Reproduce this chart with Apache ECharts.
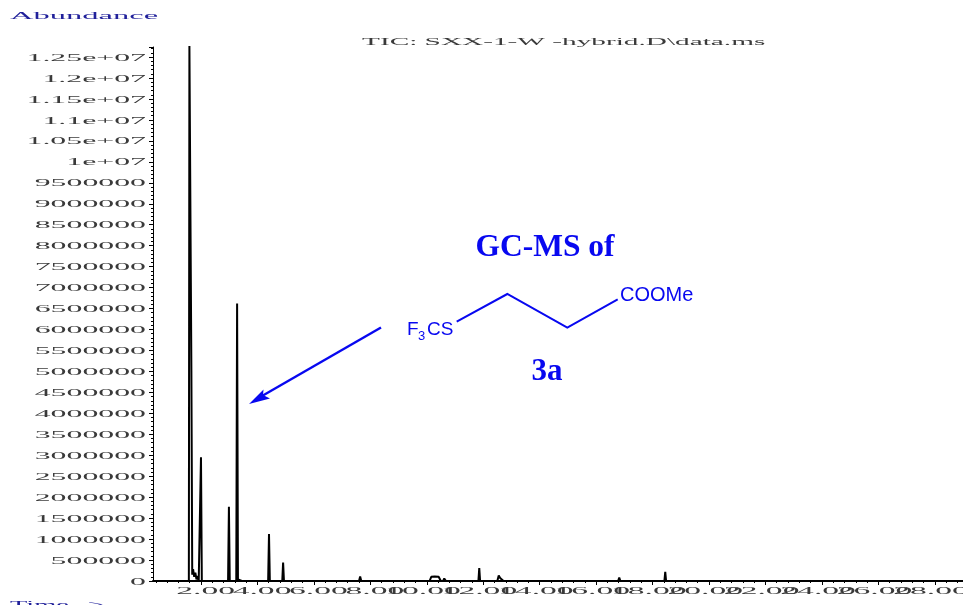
<!DOCTYPE html>
<html>
<head>
<meta charset="utf-8">
<style>html,body{margin:0;padding:0;background:#fff}#c{width:963px;height:605px}</style>
<script src="https://cdn.jsdelivr.net/npm/echarts@6/dist/echarts.min.js"></script>
</head>
<body>
<div id="c"></div>
<script>
var yTickLabels = ['0','500000','1000000','1500000','2000000','2500000','3000000','3500000','4000000','4500000','5000000','5500000','6000000','6500000','7000000','7500000','8000000','8500000','9000000','9500000','1e+07','1.05e+07','1.1e+07','1.15e+07','1.2e+07','1.25e+07'];
var xTickLabels = ['2.00','4.00','6.00','8.00','10.00','12.00','14.00','16.00','18.00','20.00','22.00','24.00','26.00','28.00'];
var xMajor = [2,4,6,8,10,12,14,16,18,20,22,24,26,28];
var xMinor = [0.4,0.8,1.2,1.6,2.4,2.8,3.2,3.6,4.4,4.8,5.2,5.6,6.4,6.8,7.2,7.6,8.4,8.8,9.2,9.6,10.4,10.8,11.2,11.6,12.4,12.8,13.2,13.6,14.4,14.8,15.2,15.6,16.4,16.8,17.2,17.6,18.4,18.8,19.2,19.6,20.4,20.8,21.2,21.6,22.4,22.8,23.2,23.6,24.4,24.8,25.2,25.6,26.4,26.8,27.2,27.6,28.4,28.8];
var times = [0.3,1.57,1.59,1.63,1.66,1.69,1.72,1.76,1.80,1.84,1.88,1.92,1.97,2.00,2.03,2.96,2.99,3.02,3.25,3.28,3.31,3.45,4.38,4.41,4.44,4.88,4.91,4.94,7.60,7.64,7.68,10.10,10.16,10.28,10.42,10.50,10.58,10.62,10.68,11.83,11.86,11.89,12.50,12.55,12.60,12.66,12.72,14.85,14.92,14.99,16.78,16.82,16.86,18.42,18.45,18.48,29];
var abundance = [0,0,12800000,12800000,5000000,150000,280000,100000,200000,40000,120000,0,0,2950000,0,0,1770000,0,0,6620000,40000,0,0,1120000,0,0,440000,0,0,110000,0,0,100000,110000,100000,0,0,60000,0,0,310000,0,0,130000,70000,110000,0,0,20000,0,0,80000,0,0,220000,0,0];
var series1 = times.map(function(t,i){return [t,abundance[i]];});
var blue = '#0808f0', navy = '#20209a', tickText = '#3a3a3a';
var labelFont = '12px "Liberation Serif"';

function stretched(text, x, y, sx, sy, align, color){
  return {type:'text', x:x, y:y, scaleX:sx, scaleY:sy, silent:true,
    style:{text:text, x:0, y:0, align:align, verticalAlign:'middle', font:labelFont, fill:color}};
}
function t(text,x,y,font,align){
  return {type:'text', x:x, y:y, silent:true, style:{text:text, x:0, y:0, font:font, fill:blue, align:align||'left', verticalAlign:'middle'}};
}
var chart = echarts.init(document.getElementById('c'), null, {renderer:'canvas'});
chart.setOption({
  animation:false,
  backgroundColor:'#fff',
  grid:{left:153,right:0,top:47,bottom:24,containLabel:false},
  xAxis:[
    {type:'value',min:0.3,max:29,position:'bottom',splitLine:{show:false},
     axisLine:{show:true,lineStyle:{color:'#000',width:2}},
     axisTick:{show:true,customValues:xMajor,length:4,lineStyle:{color:'#000',width:1}},
     axisLabel:{show:false}},
    {type:'value',min:0.3,max:29,position:'bottom',splitLine:{show:false},
     axisLine:{show:false},
     axisTick:{show:true,customValues:xMinor,length:2,lineStyle:{color:'#000',width:1}},
     axisLabel:{show:false}}
  ],
  yAxis:{type:'value',min:0,max:12740000,interval:500000,splitLine:{show:false},
     axisLine:{show:true,lineStyle:{color:'#000',width:1}},
     axisTick:{show:true,length:4,lineStyle:{color:'#000'}},
     minorTick:{show:true,splitNumber:5,length:2,lineStyle:{color:'#000'}},
     axisLabel:{show:false}},
  series:[
    {type:'line',data:series1,symbol:'none',lineStyle:{color:'#000',width:2},silent:true,clip:true},
    {type:'custom',silent:true,data:yTickLabels.map(function(s,i){return [0.3,i*500000];}),
     renderItem:function(p,api){var c=api.coord([api.value(0),api.value(1)]);
       return stretched(yTickLabels[p.dataIndex],c[0]-7,c[1]+1,2.65,0.82,'right',tickText);}},
    {type:'custom',silent:true,data:xMajor.map(function(v){return [v,0];}),
     renderItem:function(p,api){var c=api.coord([api.value(0),api.value(1)]);
       return stretched(xTickLabels[p.dataIndex],c[0]+34,c[1]+10,2.8,0.82,'right',tickText);}}
  ],
  graphic:[
    stretched('Abundance',10,16,2.71,0.82,'left',navy),
    stretched('Time-->',10,605,2.36,0.82,'left',navy),
    stretched('TIC: SXX-1-W -hybrid.D\\data.ms',362,42,2.44,0.82,'left',tickText),
    t('GC-MS of',545,248,'bold 31.5px "Liberation Serif"','center'),
    t('3a',547,372,'bold 31px "Liberation Serif"','center'),
    t('COOMe',620,295,'20px "Liberation Sans"'),
    t('F',407,330,'19px "Liberation Sans"'),
    t('3',418,336,'13px "Liberation Sans"'),
    t('CS',427,330,'19px "Liberation Sans"'),
    {type:'polyline',silent:true,shape:{points:[[456.7,321.7],[507.3,294],[567.3,327.7],[617.7,299.3]]},style:{stroke:blue,lineWidth:2,fill:null}},
    {type:'line',silent:true,shape:{x1:381,y1:327.5,x2:262,y2:396},style:{stroke:blue,lineWidth:2.4}},
    {type:'polygon',silent:true,shape:{points:[[249,404],[263.5,389.5],[263,395],[270,398.5]]},style:{fill:blue}}
  ]
});
</script>
</body>
</html>
